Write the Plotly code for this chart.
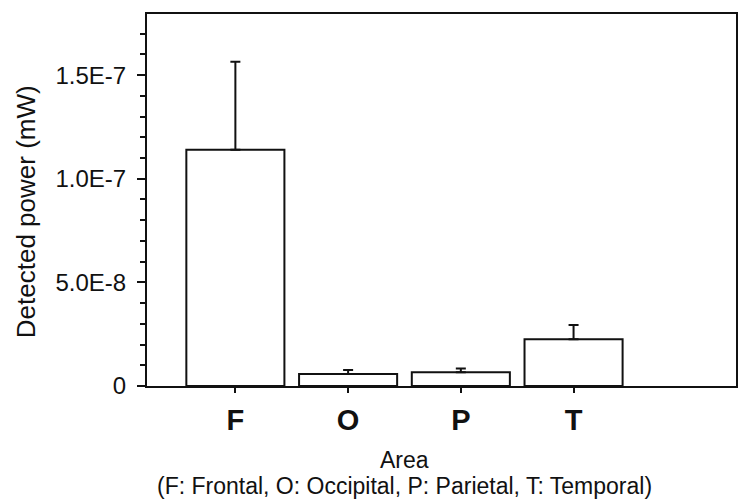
import plotly.graph_objects as go

# Mean detected power per cortical area, with upper standard deviations
areas = ["F", "O", "P", "T"]
power_mw = [1.14e-7, 5.8e-9, 6.6e-9, 2.25e-8]
power_sd = [4.25e-8, 1.9e-9, 1.9e-9, 6.9e-9]

y_tick_vals = [0, 5e-8, 1e-7, 1.5e-7]
y_tick_text = ["0", "5.0E-8", "1.0E-7", "1.5E-7"]

FONT = "Liberation Sans, Arial, sans-serif"
INK = "#111111"

fig = go.Figure(
    go.Bar(
        x=areas,
        y=power_mw,
        width=0.87,
        marker=dict(color="white", line=dict(color=INK, width=2)),
        error_y=dict(
            type="data",
            array=power_sd,
            arrayminus=[0] * len(power_sd),
            symmetric=False,
            color=INK,
            thickness=2,
            width=5,
        ),
        showlegend=False,
    )
)

fig.update_layout(
    width=738,
    height=504,
    margin=dict(l=147, r=0, t=14, b=118),
    paper_bgcolor="white",
    plot_bgcolor="white",
    font=dict(family=FONT, color=INK),
    xaxis=dict(
        range=[-0.784, 4.441],
        showline=True,
        linecolor=INK,
        linewidth=2,
        mirror=True,
        ticks="outside",
        ticklen=5,
        tickwidth=1.5,
        tickcolor=INK,
        tickfont=dict(family=FONT, size=29, color=INK, weight="bold"),
        ticklabelstandoff=2,
        showgrid=False,
        zeroline=False,
    ),
    yaxis=dict(
        range=[0, 1.795e-7],
        showline=True,
        linecolor=INK,
        linewidth=2,
        mirror=True,
        ticks="outside",
        ticklen=8,
        tickwidth=1.5,
        tickcolor=INK,
        tickvals=y_tick_vals,
        ticktext=y_tick_text,
        tickfont=dict(family=FONT, size=24, color=INK),
        ticklabelstandoff=6,
        minor=dict(dtick=1e-8, ticks="outside", ticklen=5, tickwidth=1.5, tickcolor=INK, showgrid=False),
        showgrid=False,
        zeroline=False,
    ),
    annotations=[
        dict(
            text="Detected power (mW)",
            xref="paper", yref="paper",
            x=-0.206, y=0.469,
            xanchor="center", yanchor="middle",
            textangle=-90,
            showarrow=False,
            font=dict(family=FONT, size=26, color=INK),
        ),
        dict(
            text="Area",
            xref="x", yref="paper",
            x=1.5, y=-0.2,
            xanchor="center", yanchor="middle",
            showarrow=False,
            font=dict(family=FONT, size=23, color=INK),
        ),
        dict(
            text="(F: Frontal, O: Occipital, P: Parietal, T: Temporal)",
            xref="x", yref="paper",
            x=1.5, y=-0.27,
            xanchor="center", yanchor="middle",
            showarrow=False,
            font=dict(family=FONT, size=23, color=INK),
        ),
    ],
)

fig.write_html("out.html")
